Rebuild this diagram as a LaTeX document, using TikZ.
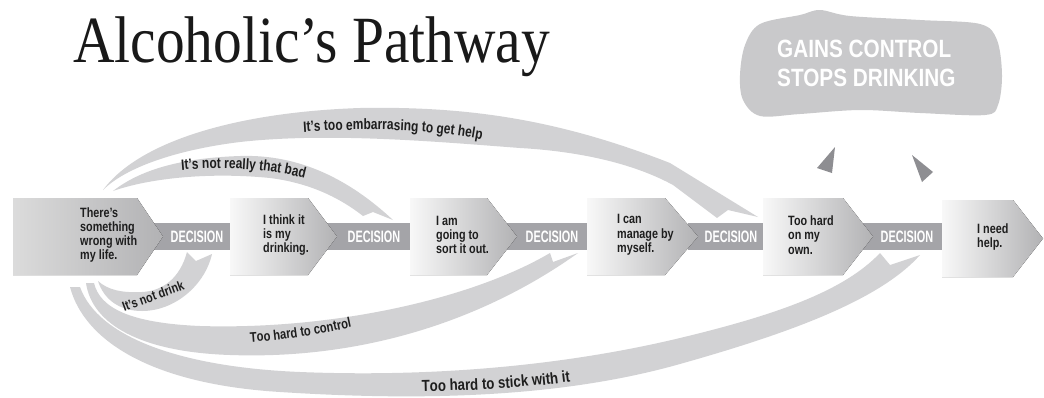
\documentclass[tikz,border=0pt]{standalone}
\usepackage{fontspec}
\newfontfamily\titlefont[FakeStretch=0.87]{Liberation Serif}
\newfontfamily\condfont[FakeStretch=0.8]{Liberation Sans}
\newfontfamily\decfont[FakeStretch=0.66]{Liberation Sans}
\newfontfamily\cloudfont[FakeStretch=0.83]{Liberation Sans}
\usetikzlibrary{decorations.text}
\definecolor{bandcol}{HTML}{D2D2D4}
\definecolor{barcol}{HTML}{A4A4A8}
\definecolor{cloudcol}{HTML}{C9C9CB}
\definecolor{tricol}{HTML}{8E8E92}
\definecolor{boxL}{HTML}{F8F8F8}
\definecolor{boxR}{HTML}{B2B2B4}
\definecolor{txt}{HTML}{1E1E1E}
\newcommand\bandlbl{\condfont\bfseries\fontsize{15}{15}\selectfont\color{txt}}
\newcommand\bandlbls{\condfont\bfseries\fontsize{14}{14}\selectfont\color{txt}}
\newcommand\bandlblw{\cloudfont\bfseries\fontsize{16}{16}\selectfont\color{txt}}
\newcommand\mychev[6]{\fill[chev,#6] (#1,#4) -- (#2,#4) -- (#3,{(#4+#5)/2}) -- (#2,#5) -- (#1,#5) -- cycle;}
\begin{document}
\begin{tikzpicture}[x=1pt,y=-1pt,
  band/.style={fill=bandcol},
  bar/.style={fill=barcol},
  chev/.style={left color=boxL,right color=boxR},
  boxtext/.style={anchor=west,align=left,inner sep=0,text=txt,
    font=\condfont\bfseries\fontsize{13.5}{14.3}\selectfont},
  dectext/.style={inner sep=0,text=white,font=\decfont\bfseries\fontsize{16.5}{16.5}\selectfont},
  bandtext/.style={decorate,decoration={text along path,text align=center,text={#1}}},
]
\useasboundingbox (0,0) rectangle (1044,397);

% title
\node[anchor=base west,inner sep=0,text=black!90,font=\titlefont\fontsize{66}{66}\selectfont] (title) at (73,62) {Alcoholic’s Pathway};

% cloud
\fill[cloudcol] plot[smooth cycle,tension=0.55] coordinates {(745,45) (760,24) (800,15) (820,10) (850,16) (920,20) (980,24) (997,40) (1002,75) (998,105) (985,115) (920,113) (860,110) (800,114) (760,116) (743,100) (740,75)};
\node[anchor=base west,inner sep=0,align=left,text=white,font=\cloudfont\bfseries\fontsize{25}{28.5}\selectfont] (gain) at (777,86) {GAINS CONTROL\\STOPS DRINKING};

% triangles
\fill[tricol] (817,168) -- (835,147) -- (832,173) -- cycle;
\fill[tricol] (912,155) -- (933,172) -- (922,182) -- cycle;

% band A (embarrassing)
\fill[band] (103,190) .. controls (140,140) and (240,112) .. (360,108) .. controls (470,106) and (560,120) .. (670,163) -- (758,217) -- (728,210) -- (717,218) -- (673,185) .. controls (640,167) and (590,152) .. (520,148) .. controls (440,142) and (330,132) .. (240,142) .. controls (175,150) and (125,168) .. cycle;
% band B (not really that bad)
\fill[band] (113,191) .. controls (140,170) and (180,158) .. (240,156) .. controls (300,154) and (350,180) .. (393,220) -- (373,212) -- (363,216) .. controls (340,198) and (310,183) .. (270,178) .. controls (210,172) and (150,178) .. cycle;
% band C (not drink)
\fill[band] (98,281) .. controls (104,300) and (120,311) .. (142,311) .. controls (175,311) and (205,285) .. (212,254) -- (196,261) -- (187,252) .. controls (180,278) and (163,291) .. (142,292) .. controls (122,293) and (108,290) .. cycle;
% band D (too hard to control)
\fill[band] (86,283) .. controls (92,324) and (140,352) .. (230,355) .. controls (370,360) and (490,316) .. (578,253) -- (553,262) -- (550,253) .. controls (470,300) and (330,330) .. (200,326) .. controls (130,323) and (100,308) .. (94,283) -- cycle;
% band E (too hard to stick with it)
\fill[band] (70,287) .. controls (84,340) and (150,384) .. (280,392) .. controls (420,401) and (560,398) .. (680,364) .. controls (790,333) and (880,300) .. (920,255) -- (890,265) -- (880,253) .. controls (845,290) and (780,314) .. (680,338) .. controls (580,362) and (450,378) .. (300,372) .. controls (180,367) and (98,337) .. (80,287) -- cycle;

% band labels
\path[bandtext={|\bandlbl|It’s too embarrasing to get help}] (290,133) .. controls (370,127) and (430,129) .. (495,142);
\path[bandtext={|\bandlbl|It’s not really that bad}] (172,171) .. controls (220,166) and (270,168) .. (314,181);
\node[inner sep=0,rotate=20,text=txt,font=\condfont\bfseries\fontsize{13.5}{13.5}\selectfont] (notdrink) at (153,296) {It’s not drink};
\path[bandtext={|\bandlbls|Too hard to control}] (240,343) .. controls (290,340) and (325,333) .. (362,325);
\path[bandtext={|\bandlblw|Too hard to stick with it}] (400,392) .. controls (470,391) and (530,388) .. (592,379);

% decision bars
\fill[bar] (153,223) rectangle (231,250);
\fill[bar] (327,223) rectangle (411,250);
\fill[bar] (507,223) rectangle (588,250);
\fill[bar] (688,223) rectangle (764,250);
\fill[bar] (863,223) rectangle (943,250);
\node[dectext] (d1) at (197,237) {DECISION};
\node[dectext] (d2) at (374,237) {DECISION};
\node[dectext] (d3) at (552,237) {DECISION};
\node[dectext] (d4) at (731,237) {DECISION};
\node[dectext] (d5) at (907,237) {DECISION};

% chevrons
\mychev{13}{137}{163}{198}{275}{left color=black!14}
\mychev{230}{308}{337}{198}{275}{}
\mychev{410}{487}{517}{198}{275}{}
\mychev{587}{665}{698}{198}{275}{}
\mychev{763}{843}{873}{198}{275}{}
\mychev{942}{1013}{1043}{200}{277}{}

\node[boxtext] (t1) at (80,235) {There’s\\something\\wrong with\\my life.};
\node[boxtext] (t2) at (263,235) {I think it\\is my\\drinking.};
\node[boxtext] (t3) at (436,235) {I am\\going to\\sort it out.};
\node[boxtext] (t4) at (617,235) {I can\\manage by\\myself.};
\node[boxtext] (t5) at (788,235) {Too hard\\on my\\own.};
\node[boxtext] (t6) at (977,237) {I need\\help.};
\end{tikzpicture}
\end{document}
